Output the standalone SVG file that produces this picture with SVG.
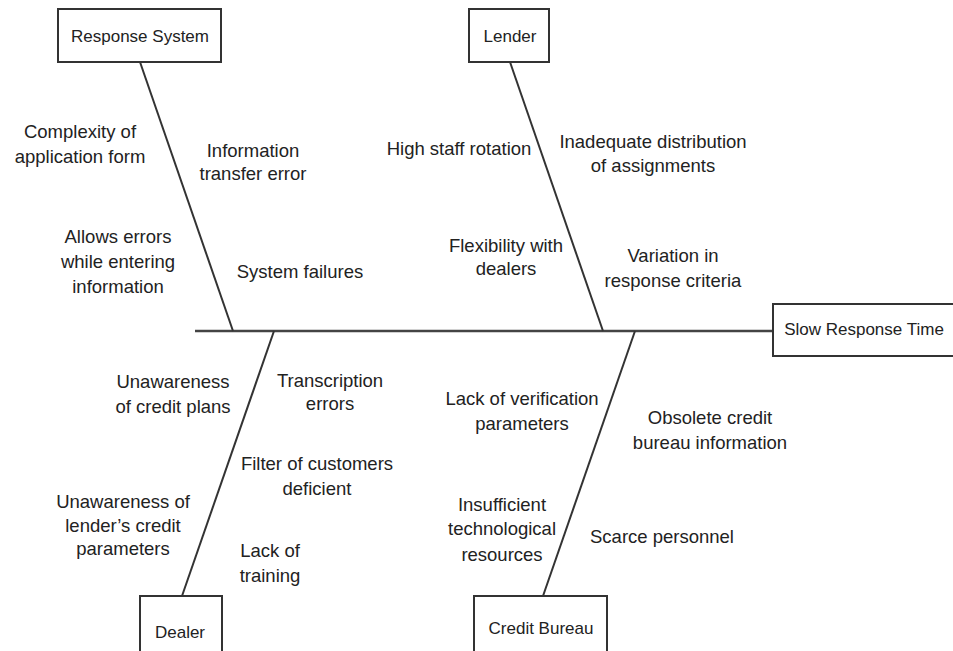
<svg xmlns="http://www.w3.org/2000/svg" width="953" height="651" viewBox="0 0 953 651">
<style>
.box{fill:#fff;stroke:#333;stroke-width:2}
.ln{stroke:#333;stroke-width:2;fill:none}
.main{stroke:#444;stroke-width:2.5;fill:none}
text{font-family:"Liberation Sans",Arial,sans-serif;fill:#222}
.lbl{font-size:17px;text-anchor:middle}
.c{font-size:18.5px;text-anchor:middle}
</style>
<rect width="953" height="651" fill="#fff"/>
<g id="connectors">
<line class="main" x1="195" y1="331" x2="773" y2="331"/>
<line class="ln" x1="140" y1="62" x2="233" y2="331"/>
<line class="ln" x1="510" y1="62" x2="603" y2="331"/>
<line class="ln" x1="274" y1="331" x2="182" y2="596"/>
<line class="ln" x1="635" y1="331" x2="543" y2="596"/>
</g>
<g id="response-system">
<rect class="box" x="58" y="9" width="163" height="53"/>
<text class="lbl" x="140" y="42">Response System</text>
</g>
<g id="lender">
<rect class="box" x="469" y="9" width="80" height="53"/>
<text class="lbl" x="510" y="42">Lender</text>
</g>
<g id="slow-response-time">
<rect class="box" x="773" y="304" width="190" height="52"/>
<text class="lbl" x="864" y="335">Slow Response Time</text>
</g>
<g id="dealer">
<rect class="box" x="140" y="596" width="82" height="70"/>
<text class="lbl" x="180" y="638">Dealer</text>
</g>
<g id="credit-bureau">
<rect class="box" x="474" y="596" width="133" height="70"/>
<text class="lbl" x="541" y="634">Credit Bureau</text>
</g>
<g id="causes-response-system">
<text class="c" x="80" y="138">Complexity of</text>
<text class="c" x="80" y="163">application form</text>
<text class="c" x="253" y="157">Information</text>
<text class="c" x="253" y="180">transfer error</text>
<text class="c" x="118" y="243">Allows errors</text>
<text class="c" x="118" y="268">while entering</text>
<text class="c" x="118" y="293">information</text>
<text class="c" x="300" y="278">System failures</text>
</g>
<g id="causes-lender">
<text class="c" x="459" y="155">High staff rotation</text>
<text class="c" x="653" y="148">Inadequate distribution</text>
<text class="c" x="653" y="172">of assignments</text>
<text class="c" x="506" y="252">Flexibility with</text>
<text class="c" x="506" y="275">dealers</text>
<text class="c" x="673" y="262">Variation in</text>
<text class="c" x="673" y="287">response criteria</text>
</g>
<g id="causes-dealer">
<text class="c" x="173" y="388">Unawareness</text>
<text class="c" x="173" y="413">of credit plans</text>
<text class="c" x="330" y="387">Transcription</text>
<text class="c" x="330" y="410">errors</text>
<text class="c" x="317" y="470">Filter of customers</text>
<text class="c" x="317" y="495">deficient</text>
<text class="c" x="123" y="508">Unawareness of</text>
<text class="c" x="123" y="532">lender’s credit</text>
<text class="c" x="123" y="555">parameters</text>
<text class="c" x="270" y="557">Lack of</text>
<text class="c" x="270" y="582">training</text>
</g>
<g id="causes-credit-bureau">
<text class="c" x="522" y="405">Lack of verification</text>
<text class="c" x="522" y="430">parameters</text>
<text class="c" x="710" y="424">Obsolete credit</text>
<text class="c" x="710" y="449">bureau information</text>
<text class="c" x="502" y="511">Insufficient</text>
<text class="c" x="502" y="535">technological</text>
<text class="c" x="502" y="561">resources</text>
<text class="c" x="662" y="543">Scarce personnel</text>
</g>
</svg>
